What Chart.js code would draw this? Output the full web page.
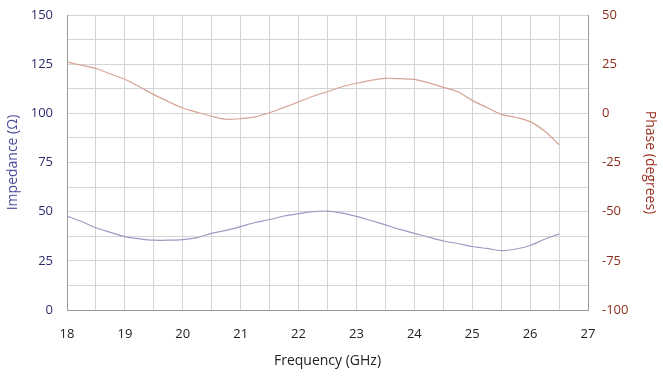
<!DOCTYPE html>
<html>
<head>
<meta charset="utf-8">
<script src="https://cdn.jsdelivr.net/npm/chart.js@4"></script>
<style>
  html, body { margin: 0; padding: 0; background: #fff; }
  #wrap { width: 663px; height: 377px; position: relative; }
</style>
</head>
<body>
<div id="wrap"><canvas id="chart"></canvas></div>
<script>
const freq      = [18, 18.25, 18.5, 18.75, 19, 19.25, 19.5, 19.75, 20, 20.25, 20.5, 20.75, 21, 21.25, 21.5, 21.75, 22, 22.25, 22.5, 22.75, 23, 23.25, 23.5, 23.75, 24, 24.25, 24.5, 24.75, 25, 25.25, 25.5, 25.75, 26, 26.25, 26.5];
const impedance = [47.8, 45, 41.8, 39.5, 37.3, 36.2, 35.5, 35.5, 35.8, 36.8, 39, 40.5, 42.4, 44.5, 46, 47.8, 49, 50, 50.3, 49.3, 47.6, 45.5, 43.3, 41, 39, 37, 35.1, 33.8, 32.3, 31.3, 30.2, 31, 32.8, 36, 38.7];
const phase     = [26, 24.5, 22.8, 20, 17.3, 13.5, 9.5, 6, 2.7, 0.5, -1.5, -3, -2.7, -1.8, 0.3, 3, 5.8, 8.7, 11, 13.5, 15.3, 16.8, 17.8, 17.6, 17.3, 15.5, 13.2, 11, 6.6, 3, -0.5, -2, -4.2, -9, -16];

const FONT = 'Open Sans';
const GRID = '#d4d4d4';
const BORDER = '#9a9a9a';

// fixed axis sizes so the plot area sits where the original one does
const fitY = w => s => { s.width = w; s.paddingTop = 0; s.paddingBottom = 0; };

new Chart(document.getElementById('chart'), {
  type: 'line',
  data: {
    datasets: [
      { label: 'Impedance', data: freq.map((f, i) => ({ x: f, y: impedance[i] })), yAxisID: 'y',
        borderColor: '#9c9bc4', borderWidth: 1.2, pointRadius: 0, tension: 0.3 },
      { label: 'Phase', data: freq.map((f, i) => ({ x: f, y: phase[i] })), yAxisID: 'y1',
        borderColor: '#d6a394', borderWidth: 1.2, pointRadius: 0, tension: 0.3 },
    ]
  },
  options: {
    responsive: true, maintainAspectRatio: false, animation: false,
    layout: { padding: { top: 15, left: 0, right: 0, bottom: 0 } },
    plugins: { legend: { display: false }, tooltip: { enabled: false } },
    scales: {
      x: {
        type: 'linear', min: 18, max: 27,
        ticks: { stepSize: 0.5, padding: 16, color: '#222', font: { family: FONT, size: 13 },
                 callback: v => Number.isInteger(v) ? v : '' },
        grid: { color: GRID, drawTicks: false },
        border: { color: BORDER },
        title: { display: true, text: 'Frequency (GHz)', color: '#222', font: { family: FONT, size: 14 }, padding: { top: 4, bottom: 8 } },
        afterFit: s => { s.height = 67; }
      },
      y: {
        position: 'left', min: 0, max: 150,
        ticks: { stepSize: 12.5, padding: 14, color: '#2d2d6e', font: { family: FONT, size: 13 },
                 callback: v => v % 25 === 0 ? v : '' },
        grid: { color: GRID, drawTicks: false },
        border: { color: BORDER },
        title: { display: true, text: 'Impedance (Ω)', color: '#4b4b9b', font: { family: FONT, size: 14 }, padding: { top: 5, bottom: 0 } },
        afterFit: fitY(67)
      },
      y1: {
        position: 'right', min: -100, max: 50,
        ticks: { stepSize: 12.5, padding: 14, color: '#8b2d1d', font: { family: FONT, size: 13 },
                 callback: v => v % 25 === 0 ? v : '' },
        grid: { drawOnChartArea: false, drawTicks: false },
        border: { color: BORDER },
        title: { display: true, text: 'Phase (degrees)', color: '#9b3020', font: { family: FONT, size: 14 }, padding: { top: 5, bottom: 0 } },
        afterFit: fitY(75)
      }
    }
  }
});
</script>
</body>
</html>
